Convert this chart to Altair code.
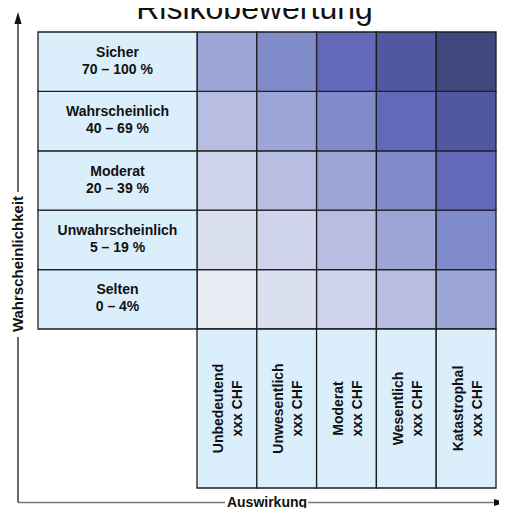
import altair as alt
import pandas as pd

# ---------------- data ----------------
title_text = "Risikobewertung"
y_axis_title = "Wahrscheinlichkeit"
x_axis_title = "Auswirkung"

# probability rows, bottom -> top
prob_names = ["Selten", "Unwahrscheinlich", "Moderat", "Wahrscheinlich", "Sicher"]
prob_ranges = ["0 – 4%", "5 – 19 %", "20 – 39 %", "40 – 69 %", "70 – 100 %"]

# impact columns, left -> right
impact_names = ["Unbedeutend", "Unwesentlich", "Moderat", "Wesentlich", "Katastrophal"]
impact_amounts = ["xxx CHF", "xxx CHF", "xxx CHF", "xxx CHF", "xxx CHF"]

# risk level = row index + column index (0..8)
risk_colors = ["#e9ecf5", "#dbe0f0", "#cfd4ec", "#b7bee2", "#9ca6d6",
               "#808bca", "#6269ba", "#4f58a0", "#41487d"]
label_fill = "#dbeefb"
border = "#1e1e1e"
font = "Liberation Sans"

# ---------------- layout (pixels of the view) ----------------
W, H = 491, 500
COL_PX, ROW_PX = 59.8, 59.4
GX0, GY0 = 189, 321            # grid origin (left of first impact column, bottom of top rows)
LABEL_W = 159 / COL_PX
LABEL_H = 159 / ROW_PX
ROW_LH, COL_LH = 17, 19        # line heights of the two-line labels


def ux(px):
    return (px - GX0) / COL_PX


def uy(py):
    return (GY0 - py) / ROW_PX


xs = alt.Scale(domain=[ux(0), ux(W)], nice=False, zero=False)
ys = alt.Scale(domain=[uy(H), uy(0)], nice=False, zero=False)

# ---------------- tables ----------------
cells = pd.DataFrame([
    {"x": c, "x2": c + 1, "y": r, "y2": r + 1, "level": r + c}
    for r in range(len(prob_names)) for c in range(len(impact_names))
])

row_labels = pd.DataFrame([
    {"x": -LABEL_W, "x2": 0, "y": r, "y2": r + 1,
     "xm": -LABEL_W / 2, "ym": r + 0.5,
     "text": prob_names[r] + "\n" + prob_ranges[r]}
    for r in range(len(prob_names))
])

col_labels = pd.DataFrame([
    {"x": c, "x2": c + 1, "y": -LABEL_H, "y2": 0,
     "xm": c + 0.5, "ym": -LABEL_H / 2,
     "text": impact_names[c] + "\n" + impact_amounts[c]}
    for c in range(len(impact_names))
])

ax_x = ux(10)          # vertical axis line position
ax_y = uy(494.5)       # horizontal axis line position
lines = pd.DataFrame([
    {"x": ax_x, "x2": ax_x, "y": ax_y, "y2": uy(329), "col": "#2a2a2a"},
    {"x": ax_x, "x2": ax_x, "y": uy(184), "y2": uy(14), "col": "#2a2a2a"},
    {"x": ax_x, "x2": ux(217), "y": ax_y, "y2": ax_y, "col": "#777777"},
    {"x": ux(300), "x2": ux(488), "y": ax_y, "y2": ax_y, "col": "#777777"},
])

arrows = pd.DataFrame([
    {"x": ax_x, "y": uy(10), "shape": "M0,-1L0.6,1L-0.6,1Z"},
    {"x": ux(492), "y": ax_y, "shape": "M1,0L-1,0.6L-1,-0.6Z"},
])

title_df = pd.DataFrame([{"x": ux(246.5), "y": uy(11), "text": title_text}])
ytitle_df = pd.DataFrame([{"x": ax_x, "y": uy(256), "text": y_axis_title}])
xtitle_df = pd.DataFrame([{"x": ux(259), "y": ax_y, "text": x_axis_title}])

# ---------------- marks ----------------
X = lambda f: alt.X(f, scale=xs, axis=None)
Y = lambda f: alt.Y(f, scale=ys, axis=None)

grid = alt.Chart(cells).mark_rect(stroke=border, strokeWidth=1.3).encode(
    x=X("x:Q"), x2="x2:Q", y=Y("y:Q"), y2="y2:Q",
    color=alt.Color("level:O", scale=alt.Scale(domain=list(range(9)), range=risk_colors), legend=None),
)

rl_rect = alt.Chart(row_labels).mark_rect(fill=label_fill, stroke=border, strokeWidth=1.3).encode(
    x=X("x:Q"), x2="x2:Q", y=Y("y:Q"), y2="y2:Q",
)
rl_text = alt.Chart(row_labels).mark_text(
    font=font, fontSize=14, fontWeight="bold", color="#111", lineBreak="\n",
    lineHeight=ROW_LH, dy=-ROW_LH / 2 - 0.5, align="center", baseline="middle",
).encode(x=X("xm:Q"), y=Y("ym:Q"), text="text:N")

cl_rect = alt.Chart(col_labels).mark_rect(fill=label_fill, stroke=border, strokeWidth=1.3).encode(
    x=X("x:Q"), x2="x2:Q", y=Y("y:Q"), y2="y2:Q",
)
cl_text = alt.Chart(col_labels).mark_text(
    font=font, fontSize=14, fontWeight="bold", color="#111", lineBreak="\n",
    lineHeight=COL_LH, dy=-COL_LH / 2 + 2, align="center", baseline="middle", angle=270,
).encode(x=X("xm:Q"), y=Y("ym:Q"), text="text:N")

rules = alt.Chart(lines).mark_rule(strokeWidth=1.4).encode(
    x=X("x:Q"), x2="x2:Q", y=Y("y:Q"), y2="y2:Q",
    color=alt.Color("col:N", scale=None),
)

heads = alt.Chart(arrows).mark_point(filled=True, size=144, opacity=1, color="#111").encode(
    x=X("x:Q"), y=Y("y:Q"),
    shape=alt.Shape("shape:N", scale=None),
)

title = alt.Chart(title_df).mark_text(
    font=font, fontSize=32, color="#111", align="center", baseline="alphabetic",
).encode(x=X("x:Q"), y=Y("y:Q"), text="text:N")

ytitle = alt.Chart(ytitle_df).mark_text(
    font=font, fontSize=15, fontWeight="bold", color="#111", align="center",
    baseline="middle", angle=270,
).encode(x=X("x:Q"), y=Y("y:Q"), text="text:N")

xtitle = alt.Chart(xtitle_df).mark_text(
    font=font, fontSize=14, fontWeight="bold", color="#111", align="center",
    baseline="middle",
).encode(x=X("x:Q"), y=Y("y:Q"), text="text:N")

chart = alt.layer(grid, rl_rect, cl_rect, rl_text, cl_text, rules, heads,
                  title, ytitle, xtitle).properties(
    width=W, height=H, padding=0,
    autosize=alt.AutoSizeParams(type="none"),
).configure_view(stroke=None)

chart.save("out.html", embed_options={"renderer": "svg", "actions": False})
